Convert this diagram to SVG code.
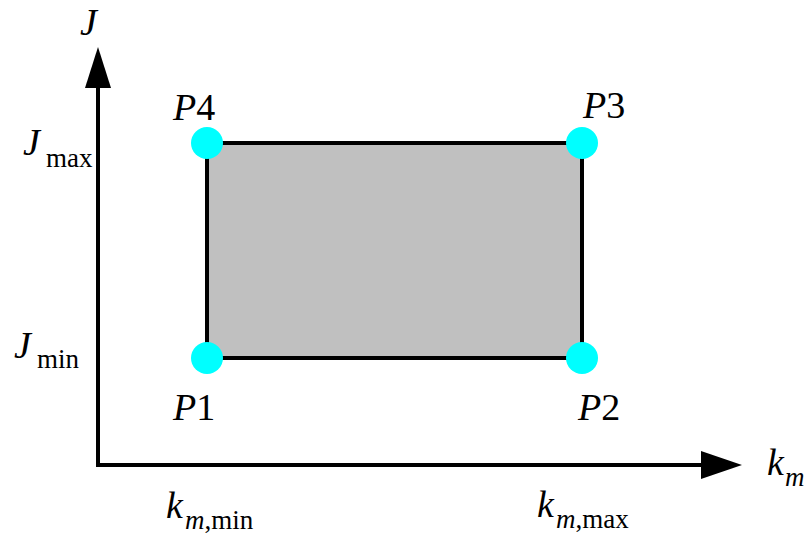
<svg xmlns="http://www.w3.org/2000/svg" width="808" height="538" viewBox="0 0 808 538">
<style>
.t{font-family:'Liberation Serif','Times New Roman',Times,serif;fill:#000}
.it{font-style:italic}
.big{font-size:38px}
.sub{font-size:27px}
.pt{fill:#00ffff}
</style>
<rect width="808" height="538" fill="#fff"/>
<g id="axes">
<line x1="98" y1="465" x2="98" y2="86" stroke="#000" stroke-width="4"/>
<polygon points="98,47 85,88 111,88" fill="#000"/>
<line x1="96" y1="465" x2="703" y2="465" stroke="#000" stroke-width="4"/>
<polygon points="742,465 701,451 701,479" fill="#000"/>
</g>
<g id="region">
<rect x="207" y="143" width="375" height="215" fill="#c0c0c0" stroke="#000" stroke-width="4"/>
</g>
<g id="P1"><circle class="pt" cx="207" cy="358" r="16"/><text class="t big" x="173" y="420"><tspan class="it">P</tspan>1</text></g>
<g id="P2"><circle class="pt" cx="582" cy="358" r="16"/><text class="t big" x="578" y="420"><tspan class="it">P</tspan>2</text></g>
<g id="P3"><circle class="pt" cx="582" cy="143" r="16"/><text class="t big" x="583" y="118"><tspan class="it">P</tspan>3</text></g>
<g id="P4"><circle class="pt" cx="207" cy="143" r="16"/><text class="t big" x="173" y="120"><tspan class="it">P</tspan>4</text></g>
<g id="labels">
<text class="t big it" x="80" y="35">J</text>
<text class="t big it" x="23" y="155">J</text><text class="t sub" x="46" y="167">max</text>
<text class="t big it" x="14" y="358">J</text><text class="t sub" x="37" y="368">min</text>
<text class="t big it" x="767" y="475">k</text><text class="t sub it" x="785" y="486">m</text>
<text class="t big it" x="166" y="518">k</text><text class="t sub" x="185" y="529"><tspan class="it">m</tspan>,min</text>
<text class="t big it" x="537" y="517">k</text><text class="t sub" x="556" y="528"><tspan class="it">m</tspan>,max</text>
</g>
</svg>
